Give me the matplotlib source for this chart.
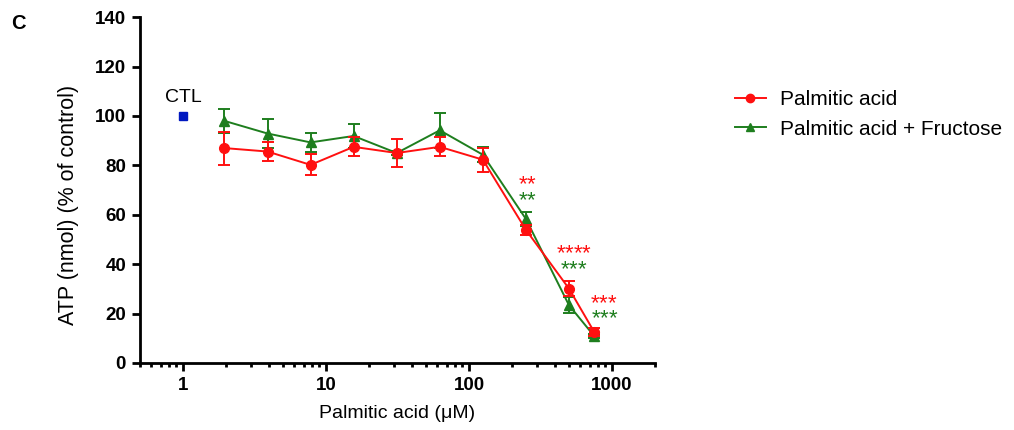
import matplotlib
matplotlib.use("Agg")
import matplotlib.pyplot as plt
import matplotlib.ticker as mticker
from matplotlib.lines import Line2D
import numpy as np

plt.rcParams['font.family'] = ['Liberation Sans', 'DejaVu Sans']

# ---- data ----
dose = [1.95, 3.9, 7.8, 15.6, 31.25, 62.5, 125, 250, 500, 750]
pa_mean = [87.0, 85.6, 80.2, 87.5, 85.0, 87.5, 82.3, 53.9, 30.1, 12.6]
pa_err = [6.7, 4.0, 4.3, 3.8, 5.7, 3.8, 4.8, 2.0, 3.0, 1.5]
paf_mean = [98.0, 92.9, 89.3, 91.9, 85.0, 94.2, 84.3, 58.3, 23.4, 10.9]
paf_err = [4.8, 5.8, 4.0, 4.7, 1.0, 7.0, 3.0, 2.8, 3.3, 1.0]
ctl_x = [1.0]
ctl_y = [100.0]
sig_dose = [250, 500, 750]
pa_sig = ["**", "****", "***"]
paf_sig = ["**", "***", "***"]
pa_sig_y = [72.5, 44.8, 24.2]
paf_sig_y = [66.2, 38.3, 18.2]

red = "#FF1010"
green = "#1E7E1E"
blue = "#0018C0"

fig = plt.figure(figsize=(10.14, 4.30), dpi=100)
ax = fig.add_axes([0.138, 0.156, 0.508, 0.804])

ax.errorbar(dose, pa_mean, yerr=pa_err, color=red, marker='o', markersize=7,
            linewidth=1.4, capsize=4, capthick=1.4, elinewidth=1.4, zorder=3)
ax.errorbar(dose, paf_mean, yerr=paf_err, color=green, marker='^', markersize=7,
            linewidth=1.4, capsize=4, capthick=1.4, elinewidth=1.4, zorder=2)
ax.plot(ctl_x, ctl_y, marker='s', color=blue, markersize=6, linestyle='none')
ax.text(ctl_x[0], ctl_y[0] + 4.0, "CTL", ha='center', va='bottom', fontsize=14)


def stars(s):
    # braces stop mathtext's operator spacing between asterisks
    return r"$\mathregular{" + "".join("{*}" for _ in s) + "}$"


star_fs = 16
xfac_pa = [1.02, 1.085, 1.17]
xfac_paf = [1.03, 1.09, 1.18]
for i, d in enumerate(sig_dose):
    ax.text(d * xfac_pa[i], pa_sig_y[i], stars(pa_sig[i]), color=red,
            ha='center', va='center', fontsize=star_fs)
    ax.text(d * xfac_paf[i], paf_sig_y[i], stars(paf_sig[i]), color=green,
            ha='center', va='center', fontsize=star_fs)

ax.set_xscale('log')
ax.set_xlim(0.5, 2000)
ax.set_ylim(0, 140)
ax.set_yticks(np.arange(0, 141, 20))
ax.xaxis.set_major_locator(mticker.FixedLocator([1, 10, 100, 1000]))
ax.xaxis.set_major_formatter(mticker.FixedFormatter(["1", "10", "100", "1000"]))
ax.xaxis.set_minor_locator(mticker.LogLocator(base=10, subs=np.arange(2, 10), numticks=20))
ax.xaxis.set_minor_formatter(mticker.NullFormatter())

for s in ['top', 'right']:
    ax.spines[s].set_visible(False)
for s in ['left', 'bottom']:
    ax.spines[s].set_linewidth(2)
ax.tick_params(axis='both', which='major', width=2, length=6, labelsize=13.5, pad=4)
ax.tick_params(axis='x', which='minor', width=2, length=3)
for lab in ax.get_xticklabels() + ax.get_yticklabels():
    lab.set_fontweight('bold')

ax.set_xlabel("Palmitic acid (μM)", fontsize=14, labelpad=8)
ax.set_ylabel("ATP (nmol) (% of control)", fontsize=15.5)
ax.yaxis.set_label_coords(-0.118, 0.457)

handles = [Line2D([], [], color=red, marker='o', markersize=6, linewidth=1.4),
           Line2D([], [], color=green, marker='^', markersize=6, linewidth=1.4)]
labels = ["Palmitic acid", "Palmitic acid + Fructose"]
fig.legend(handles, labels, loc='upper left', bbox_to_anchor=(0.706, 0.834),
           frameon=False, fontsize=15, handlelength=1.5, handletextpad=0.7,
           labelspacing=0.5)

fig.text(0.018, 0.945, "C", fontsize=14.5, fontweight='bold', ha='center', va='center')

fig.savefig("out.png", dpi=100)
